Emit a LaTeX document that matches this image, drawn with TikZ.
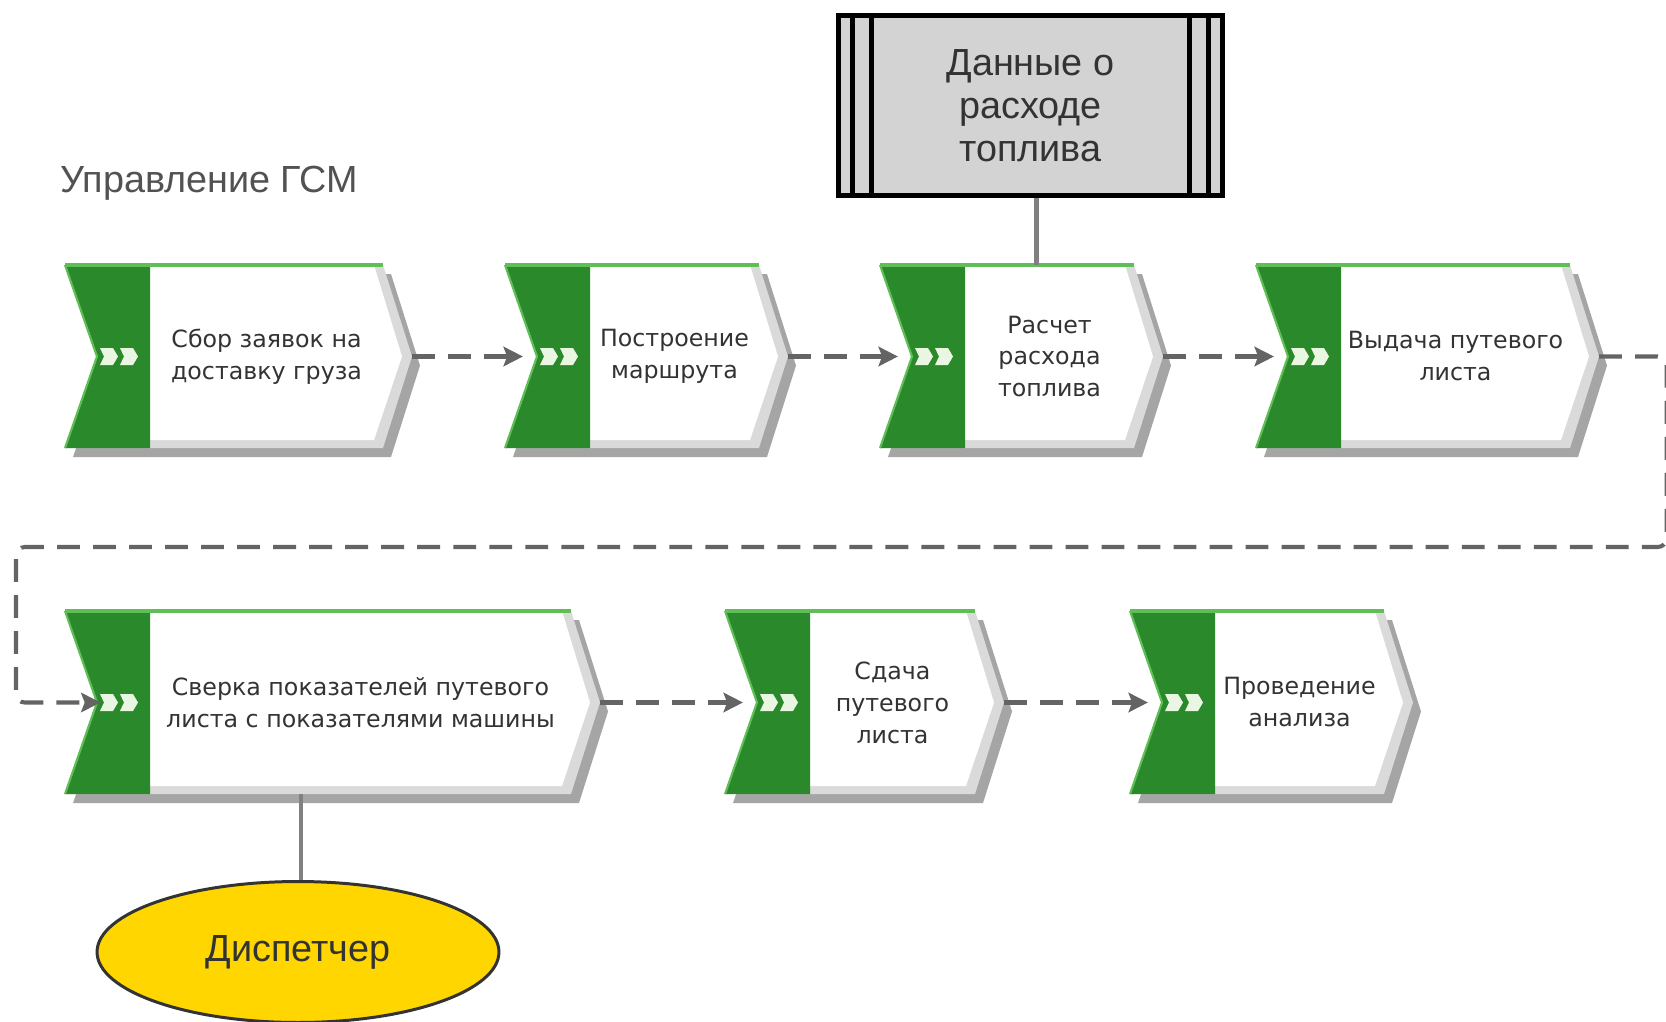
\documentclass[tikz,border=0pt]{standalone}
\usepackage{fontspec}
\setmainfont{Liberation Sans}
\newfontfamily\procfont{DejaVu Sans}
\usepackage{tikz}
\usetikzlibrary{calc,arrows.meta,shapes.geometric}

\definecolor{bandgreen}{RGB}{42,137,42}
\definecolor{topgreen}{RGB}{95,190,85}
\definecolor{chevwhite}{RGB}{232,246,226}
\definecolor{bevelgray}{RGB}{218,218,218}
\definecolor{shadowgray}{RGB}{165,165,165}
\definecolor{flowgray}{RGB}{100,100,100}
\definecolor{assocgray}{RGB}{128,128,128}
\definecolor{textgray}{RGB}{51,51,51}
\definecolor{datafill}{RGB}{211,211,211}
\definecolor{dispyellow}{RGB}{255,214,0}

% #1 имя, #2 левый край, #3 острие, #4 верх, #5 текст
\newcommand{\procshape}[5]{%
  \pgfmathsetmacro{\xl}{#2}%
  \pgfmathsetmacro{\xr}{#3}%
  \pgfmathsetmacro{\yt}{#4}%
  \pgfmathsetmacro{\yb}{#4+183}%
  \pgfmathsetmacro{\ym}{#4+91.5}%
  \pgfmathsetmacro{\xn}{#2+32}%
  \pgfmathsetmacro{\xe}{#3-29}%
  \pgfmathsetmacro{\xg}{#2+85}%
  \fill[shadowgray] (\xl+8,\yt+9) -- (\xe+8,\yt+9) -- (\xr+8,\ym+9) -- (\xe+8,\yb+9) -- (\xl+8,\yb+9) -- (\xn+8,\ym+9) -- cycle;
  \fill[bevelgray] (\xl,\yt) -- (\xe,\yt) -- (\xr,\ym) -- (\xe,\yb) -- (\xl,\yb) -- (\xn,\ym) -- cycle;
  \fill[white] (\xl,\yt) -- (\xe-9,\yt) -- (\xr-10,\ym) -- (\xe-9,\yb-8) -- (\xl,\yb-8) -- (\xn,\ym) -- cycle;
  \fill[bandgreen] (\xl,\yt) -- (\xg,\yt) -- (\xg,\yb) -- (\xl,\yb) -- (\xn,\ym) -- cycle;
  \draw[topgreen, line width=1.2pt] (\xl,\yt) -- (\xn,\ym) -- (\xl,\yb);
  \draw[topgreen, line width=2pt] (\xl,\yt) -- (\xe,\yt);
  \foreach \k in {0,20}
    \fill[chevwhite] (\xn+3+\k,\ym-8.5) -- ++(13,0) -- ++(5,8.5) -- ++(-5,8.5) -- ++(-13,0) -- ++(4,-8.5) -- cycle;
  \coordinate (#1-in) at (\xn,\ym);
  \coordinate (#1-out) at (\xr,\ym);
  \coordinate (#1-nw) at (\xl,\yt);
  \coordinate (#1-sw) at (\xl,\yb);
  \node[proctext] (#1) at ({(\xg+\xe)/2},\ym) {#5};
}

\begin{document}
\begin{tikzpicture}[x=0.02cm, y=-0.02cm,
    flow/.style={draw=flowgray, line width=2.3pt, dash pattern=on 13pt off 7.5pt,
      -{Stealth[length=11pt,width=11pt,inset=2pt]}, shorten >=8pt},
    assoc/.style={draw=assocgray, line width=2.6pt},
    proctext/.style={align=center, text=textgray, inner sep=0pt,
      font=\procfont\fontsize{13.5}{18.2}\selectfont},
    bigtext/.style={text=textgray, font=\fontsize{21.5}{24.5}\selectfont},
    boxline/.style={line width=2.8pt, black}]
    \useasboundingbox (0,0) rectangle (1666,1021);
    \clip (0,0) rectangle (1666,1021);

    \node[bigtext, anchor=west, inner sep=0pt, text=textgray!85] (title) at (60,183) {Управление ГСМ};

    % Функции
    \procshape{p1}{65}{412}{265}{Сбор заявок на\\доставку груза}
    \procshape{p2}{505}{788}{265}{Построение\\маршрута}
    \procshape{p3}{880}{1163}{265}{Расчет\\расхода\\топлива}
    \procshape{p4}{1256}{1599}{265}{Выдача путевого\\листа}
    \procshape{p5}{65}{600}{611}{Сверка показателей путевого\\листа с показателями машины}
    \procshape{p6}{725}{1004}{611}{Сдача\\путевого\\листа}
    \procshape{p7}{1130}{1413}{611}{Проведение\\анализа}

    \draw[flow] (p1-out) -- (p2-in);
    \draw[flow] (p2-out) -- (p3-in);
    \draw[flow] (p3-out) -- (p4-in);
    \coordinate (turnR) at (1666.5,547);
    \coordinate (turnL) at (16,547);
    \draw[flow, rounded corners=5, shorten >=-2pt] (p4-out) -- (p4-out -| turnR) -- (turnR) -- (turnL) -- (turnL |- p5-in) -- (p5-in);
    \draw[flow] (p5-out) -- (p6-in);
    \draw[flow] (p6-out) -- (p7-in);

    % Данные
    \node[bigtext, align=center, draw=black, line width=2.8pt, fill=datafill,
      minimum width=7.68cm, minimum height=3.6cm] (data) at (1030.5,105.5)
      {Данные о\\расходе\\топлива};
    \foreach \d in {16,35} {
        \draw[boxline] ($(data.north west)+(\d,0)$) -- ($(data.south west)+(\d,0)$);
        \draw[boxline] ($(data.north east)+(-\d,0)$) -- ($(data.south east)+(-\d,0)$);
    }
    \draw[assoc] ([xshift=0.12cm]data.south) -- ([xshift=0.12cm]data.south |- p3-nw);

    % Исполнитель
    \node[bigtext, ellipse, draw=textgray, line width=1.7pt, fill=dispyellow,
      minimum width=8.04cm, minimum height=2.82cm] (disp) at (298,952) {Диспетчер};
    \draw[assoc] ([xshift=0.06cm]disp.north) -- ([xshift=0.06cm]disp.north |- p5-sw);
\end{tikzpicture}
\end{document}
